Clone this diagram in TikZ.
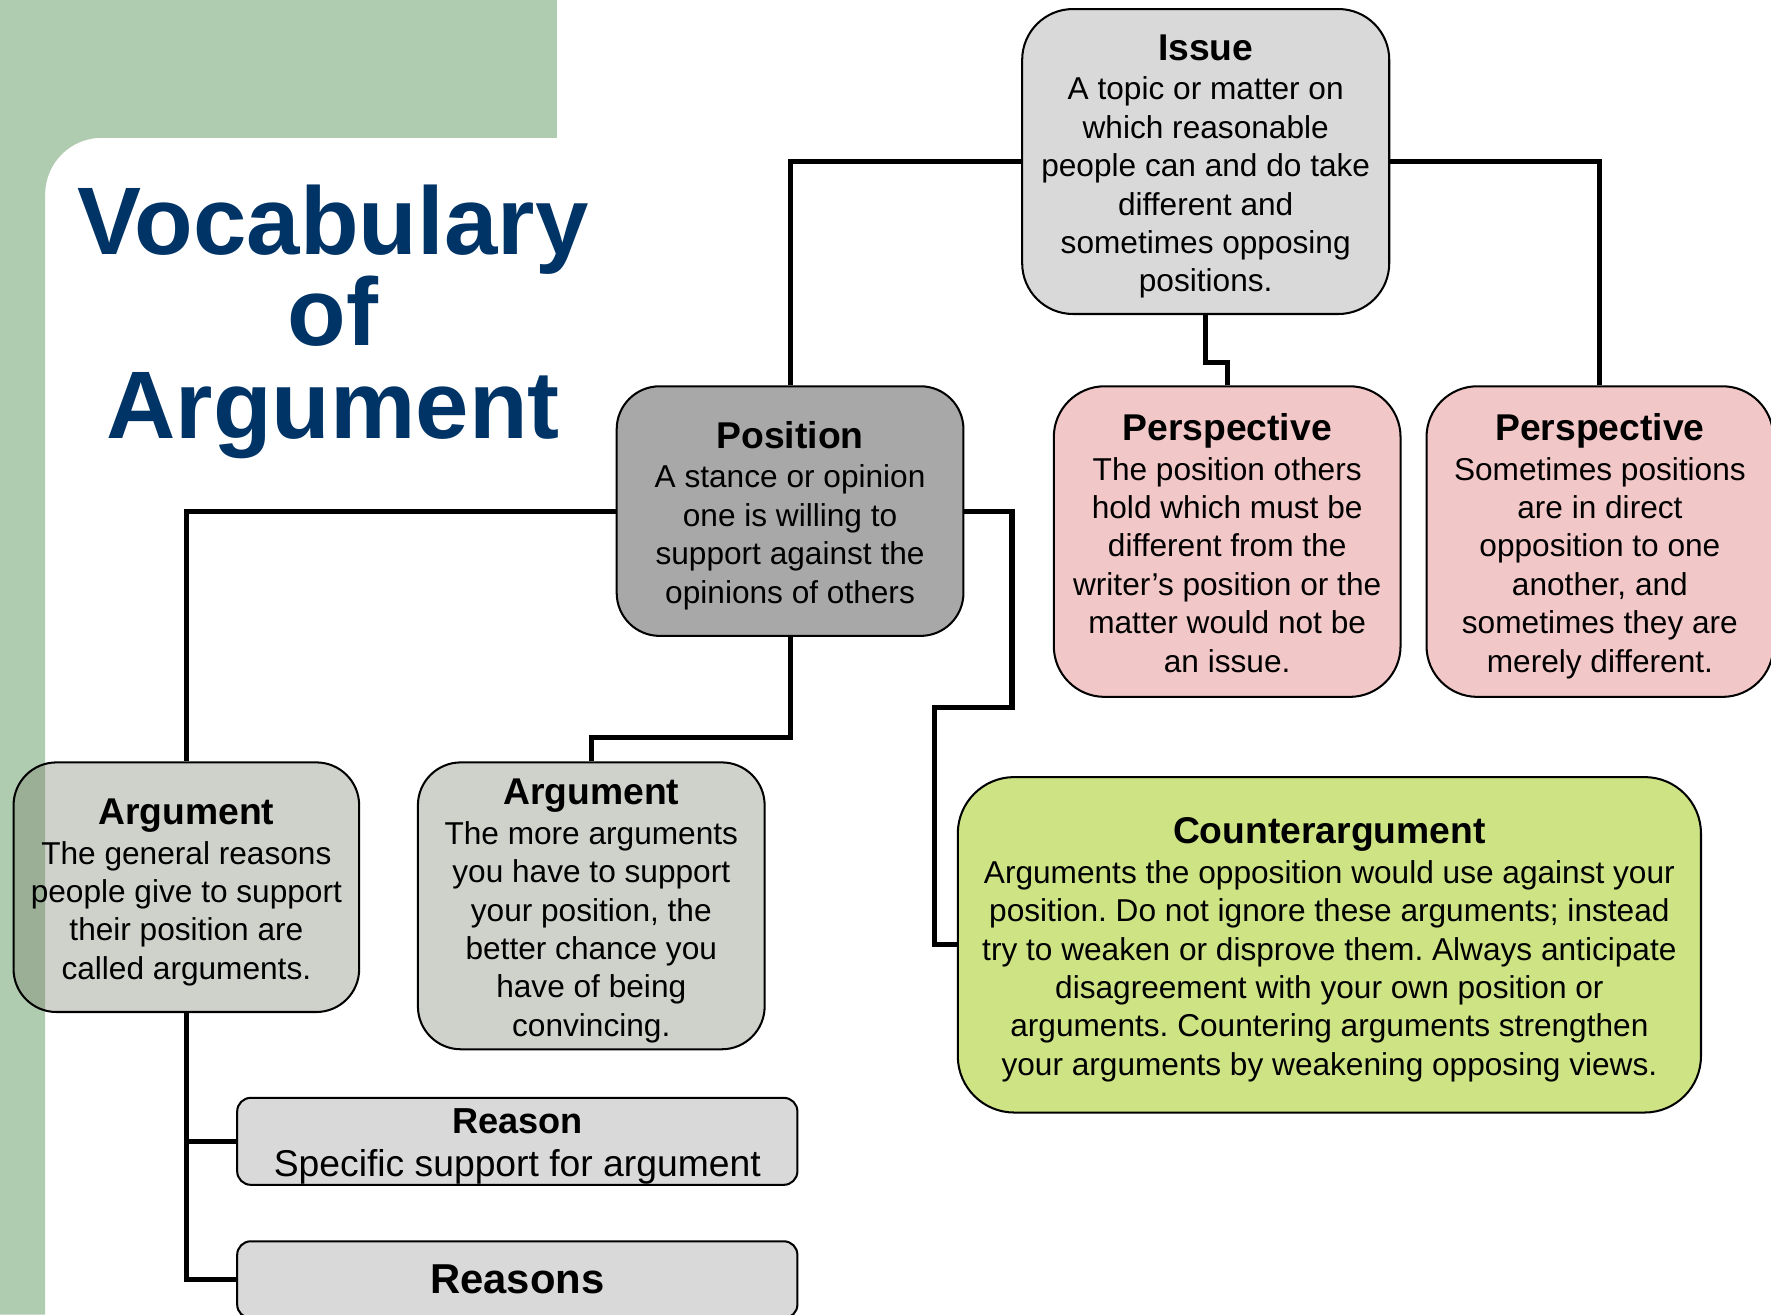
\documentclass[tikz,border=0pt]{standalone}
\usepackage{fontspec}
\setmainfont{Liberation Sans}
\frenchspacing
\definecolor{bggreen}{RGB}{176,204,176}
\definecolor{navy}{RGB}{0,51,102}
\definecolor{issuegray}{RGB}{217,217,217}
\definecolor{posgray}{RGB}{168,168,168}
\definecolor{pinkbox}{RGB}{242,199,199}
\definecolor{arggray}{RGB}{112,116,98}
\definecolor{limebox}{RGB}{205,227,132}
\newcommand\boxhead[1]{{\fontsize{33}{34}\selectfont\bfseries\rule{0pt}{36pt}#1}\\[1pt]}
\newcommand\boxend{\rule[-10pt]{0pt}{10pt}}
\tikzset{
  box/.style={draw=black, line width=1.8pt, align=center, inner sep=0pt,
    font=\fontsize{28}{34}\selectfont},
  link/.style={line width=4.5pt, draw=black},
  titletext/.style={anchor=base, text=navy, font=\fontsize{85}{82}\selectfont\bfseries}
}
\begin{document}
\begin{tikzpicture}[x=1pt,y=-1pt]
\clip (0,0) rectangle (1568,1164);
\fill[white] (0,0) rectangle (1568,1164);
% background
\fill[bggreen] (0,0) -- (493,0) -- (493,122) -- (90,122) arc[start angle=270,end angle=180,radius=50] -- (40,1164) -- (0,1164) -- cycle;
\node[titletext] (t1) at (295,225) {Vocabulary};
\node[titletext] (t2) at (295,306) {of};
\node[titletext] (t3) at (295,388) {Argument};
% boxes
\node[box, fill=issuegray, rounded corners=45pt, minimum width=325pt, minimum height=270pt] (issue) at (1067.5,143)
 {\boxhead{Issue}A topic or matter on\\which reasonable\\people can and do take\\different and\\sometimes opposing\\positions.\boxend};
\node[box, fill=posgray, rounded corners=38pt, minimum width=307pt, minimum height=221pt] (pos) at (699.5,452.5)
 {\boxhead{Position}A stance or opinion\\one is willing to\\support against the\\opinions of others\boxend};
\node[box, fill=pinkbox, rounded corners=45pt, minimum width=307pt, minimum height=275pt] (p1) at (1086.5,479.5)
 {\boxhead{Perspective}The position others\\hold which must be\\different from the\\writer’s position or the\\matter would not be\\an issue.\boxend};
\node[box, fill=pinkbox, rounded corners=45pt, minimum width=307pt, minimum height=275pt] (p2) at (1416.5,479.5)
 {\boxhead{Perspective}Sometimes positions\\are in direct\\opposition to one\\another, and\\sometimes they are\\merely different.\boxend};
\node[box, fill=arggray, fill opacity=0.33, text opacity=1, rounded corners=38pt, minimum width=306pt, minimum height=221pt] (arg1) at (165,785.5)
 {\boxhead{Argument}The general reasons\\people give to support\\their position are\\called arguments.\boxend};
\node[box, fill=arggray, fill opacity=0.33, text opacity=1, rounded corners=38pt, minimum width=307pt, minimum height=254pt] (arg2) at (523.5,802)
 {\boxhead{Argument}The more arguments\\you have to support\\your position, the\\better chance you\\have of being\\convincing.\boxend};
\node[box, fill=limebox, rounded corners=50pt, minimum width=658pt, minimum height=297pt] (counter) at (1177,836.5)
 {\boxhead{Counterargument}Arguments the opposition would use against your\\position. Do not ignore these arguments; instead\\try to weaken or disprove them. Always anticipate\\disagreement with your own position or\\arguments. Countering arguments strengthen\\your arguments by weakening opposing views.\boxend};
\node[box, fill=issuegray, rounded corners=12pt, minimum width=496pt, minimum height=77pt] (reason) at (458,1010.5)
 {{\fontsize{32}{34}\selectfont\bfseries\rule{0pt}{31pt}Reason}\\[4pt]{\fontsize{33}{36}\selectfont Specific support for argument}};
\node[box, fill=issuegray, rounded corners=12pt, minimum width=496pt, minimum height=68pt, font=\fontsize{37}{40}\selectfont\bfseries] (reasons) at (458,1133)
 {Reasons};
% connectors
\coordinate (c1) at (896,626);
\coordinate (c2) at (827,626);
\draw[link] (issue.west) -| (pos.north);
\draw[link] (issue.east) -| (p2.north);
\draw[link] (issue.south) -- ++(0,42) -| (p1.north);
\draw[link] (pos.west) -| (arg1.north);
\draw[link] (pos.south) -- ++(0,89) -| (arg2.north);
\draw[link] (pos.east) -| (c1) -- (c2) |- (counter.west);
\draw[link] (arg1.south) |- (reason.west);
\draw[link] (arg1.south) |- (reasons.west);
\end{tikzpicture}
\end{document}
